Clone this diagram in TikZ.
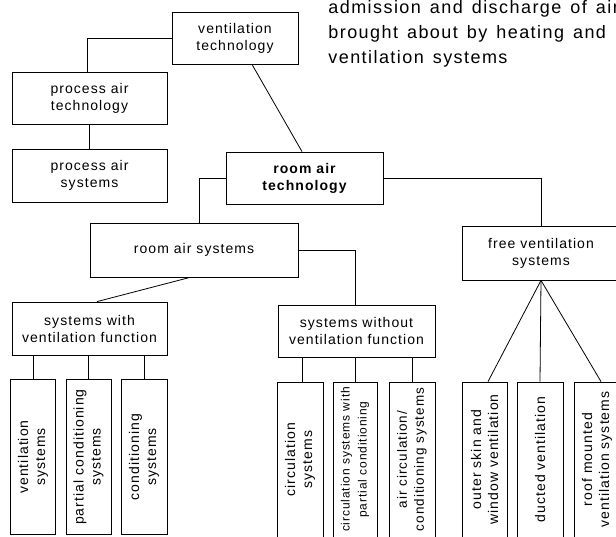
\documentclass[tikz,border=0pt]{standalone}
\usepackage{fontspec}
\setmainfont{Liberation Sans}[LetterSpace=7.5]
\newfontfamily\notefont{Liberation Sans}[LetterSpace=8, WordSpace=1.4]
\usetikzlibrary{positioning}
\newcommand\boxsize{\fontsize{14}{17}\selectfont}

\begin{document}
\begin{tikzpicture}[
  x=1pt, y=-1pt,
  line width=0.8pt,
  box/.style={draw, font=\boxsize, align=center, inner sep=0pt, minimum width=155pt, minimum height=52pt},
  leaf/.style={draw, rotate=90, font=\boxsize, align=center, inner sep=0pt, minimum width=155pt, minimum height=45pt}
]
\path[use as bounding box] (0,0) rectangle (616,536);
\clip (0,0) rectangle (616,536);
\node[anchor=north west, align=left, inner sep=0pt, font=\notefont\fontsize{18}{25}\selectfont] (note) at (328,0) {admission and discharge of air\\brought about by heating and\\ventilation systems};
% upper levels
\node[box, minimum width=126pt] (vt) at (235,38) {ventilation\\technology};
\node[box] (pat) at (89.5,98) {process air\\technology};
\node[box, minimum height=53pt] (pas) at (89.5,175.5) {process air\\systems};
\node[box, minimum width=157pt, font=\boxsize\bfseries] (rat) at (304.5,178) {room air\\technology};
\node[box, minimum width=208pt, minimum height=54pt] (ras) at (194,250) {room air systems};
\node[box, minimum width=158pt, minimum height=54pt] (fvs) at (541,253) {free ventilation\\systems};
\node[box, minimum height=53pt] (swv) at (89.5,328.5) {systems with\\ventilation function};
\node[box, minimum width=157pt] (swo) at (356.5,331) {systems without\\ventilation function};
% leaves
\node[leaf] (l1) at (33,457) {ventilation\\systems};
\node[leaf] (l2) at (88.5,457) {partial conditioning\\systems};
\node[leaf, minimum height=46pt] (l3) at (144,457) {conditioning\\systems};
\node[leaf, minimum height=46pt] (l4) at (300,459.5) {circulation\\systems};
\node[leaf, minimum height=44pt, font=\fontsize{12}{17}\selectfont] (l5) at (355,459.5) {circulation systems with\\partial conditioning};
\node[leaf, minimum height=46pt, font=\fontsize{13.5}{17}\selectfont] (l6) at (412,459.5) {air circulation/\\conditioning systems};
\node[leaf] (l7) at (484.5,459.5) {outer skin and\\window ventilation};
\node[leaf, minimum height=46pt] (l8) at (540,459.5) {ducted ventilation};
\node[leaf, minimum height=46pt] (l9) at (597,459.5) {roof mounted\\ventilation systems};
% connectors
\draw (vt.west) -| ([xshift=-2.5pt]pat.north);
\draw (pat) -- (pas);
\draw ([xshift=17pt]vt.south) -- ([xshift=-2.5pt]rat.north);
\draw (rat.west) -| ([xshift=5pt]ras.north);
\draw (rat.east) -| (fvs.north);
\draw (ras.east) -| ([xshift=-1.5pt]swo.north);
\draw ([xshift=-4pt]ras.south) -- ([xshift=7.5pt]swv.north);
\draw (l1.east) -- (l1.east |- swv.south);
\draw (l2.east) -- (l2.east |- swv.south);
\draw (l3.east) -- (l3.east |- swv.south);
\draw ([xshift=2pt]l4.east) -- ([xshift=2pt]l4.east |- swo.south);
\draw (l5.east) -- (l5.east |- swo.south);
\draw (l6.east) -- (l6.east |- swo.south);
\draw (fvs.south) -- ([xshift=3.5pt]l7.east);
\draw (fvs.south) -- (l8.east);
\draw (fvs.south) -- ([xshift=4pt]l9.east);
\end{tikzpicture}
\end{document}
